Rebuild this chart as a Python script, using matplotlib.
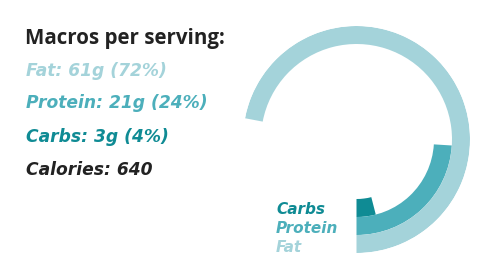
import numpy as np
import matplotlib
matplotlib.use("Agg")
import matplotlib.pyplot as plt

# data
macros = ["Carbs", "Protein", "Fat"]
grams = [3, 21, 61]
pct = [4, 24, 72]
calories = 640
colors = ["#0f8b94", "#4cafbb", "#a4d3da"]

W, H, DPI = 494, 280, 100
fig = plt.figure(figsize=(W / DPI, H / DPI), dpi=DPI)
fig.patch.set_facecolor("white")

cx, cy, R = 356.5, 139.5, 113.5
ax = fig.add_axes([(cx - R) / W, (H - cy - R) / H, 2 * R / W, 2 * R / H], projection="polar")
ax.set_theta_zero_location("S")
ax.set_theta_direction(1)
ax.set_ylim(0, R)
ax.set_axis_off()

inner = 59.5
thick = 18.0
for i, (name, p, c) in enumerate(zip(macros, pct, colors)):
    ax.bar(0, thick, width=np.deg2rad(p * 3.6), bottom=inner + i * thick,
           align="edge", color=c, edgecolor="none", linewidth=0)

def txt(x, y, s, color, size, italic=True, fam=("DejaVu Sans",)):
    fig.text(x / W, 1 - y / H, s, color=color, fontsize=size, fontweight="bold",
             fontstyle="italic" if italic else "normal", family=list(fam),
             ha="left", va="baseline")

txt(25, 44, "Macros per serving:", "#222222", 14.8, italic=False,
    fam=("Open Sans", "DejaVu Sans"))
ys = [142, 108, 76]
for name, g, p, c, y in zip(macros, grams, pct, colors, ys):
    txt(26, y, f"{name}: {g}g ({p}%)", c, 12.3)
txt(26, 175, f"Calories: {calories}", "#222222", 12.3)

for name, c, y in zip(macros, colors, [214, 233, 252]):
    txt(276, y, name, c, 11.0)

fig.savefig("out.png", dpi=DPI, facecolor="white")
